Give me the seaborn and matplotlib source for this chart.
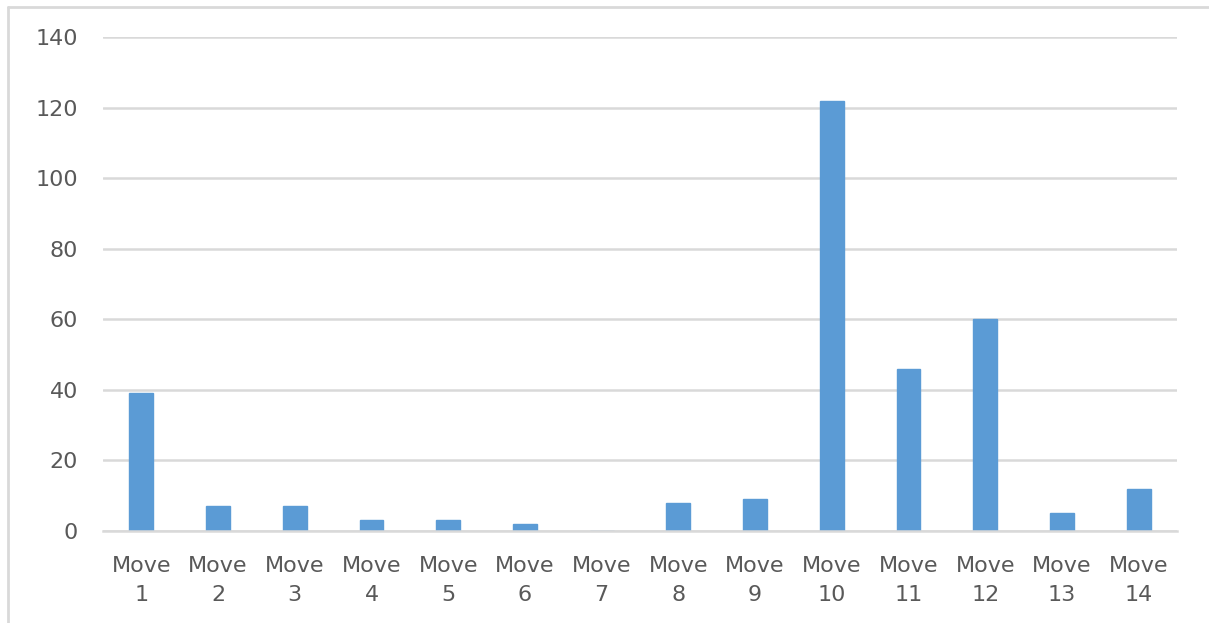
import matplotlib
matplotlib.use("Agg")
import matplotlib.pyplot as plt
import seaborn as sns
import pandas as pd
from matplotlib.lines import Line2D

categories = [f"Move\n{i}" for i in range(1, 15)]
values = [39, 7, 7, 3, 3, 2, 0, 8, 9, 122, 46, 60, 5, 12]
yticks = [0, 20, 40, 60, 80, 100, 120, 140]

sns.set_theme(style="white")
plt.rcParams['font.family'] = ['DejaVu Sans']

W, H = 1209, 623
fig = plt.figure(figsize=(W/100, H/100), dpi=100)
ax = fig.add_axes([103/W, 1 - 531/H, (1177-103)/W, (531-37)/H])

df = pd.DataFrame({"cat": categories, "val": values})
sns.barplot(data=df, x="cat", y="val", color="#5B9BD5", width=0.31, ax=ax,
            saturation=1, edgecolor="#5B9BD5")

ax.set_ylim(0, 140)
ax.set_xlim(-0.5, len(categories) - 0.5)
ax.set_yticks(yticks)
ax.yaxis.grid(True, color="#D9D9D9", linewidth=1.8)
ax.set_axisbelow(True)
for s in ["top", "right", "left"]:
    ax.spines[s].set_visible(False)
ax.spines["bottom"].set_color("#D9D9D9")
ax.spines["bottom"].set_linewidth(1.8)
ax.set_xlabel("")
ax.set_ylabel("")
ax.tick_params(axis="y", length=0, pad=18, labelsize=16, labelcolor="#595959")
ax.tick_params(axis="x", length=0, pad=18, labelsize=16, labelcolor="#595959")
for t in ax.get_xticklabels():
    t.set_linespacing(1.55)
    t.set_horizontalalignment("center")

# outer chart frame (only top and left edges visible in the reference)
fig.lines.append(Line2D([8/W, 1.0], [1 - 7/H, 1 - 7/H], transform=fig.transFigure,
                        color="#D9D9D9", linewidth=2))
fig.lines.append(Line2D([8/W, 8/W], [0.0, 1 - 7/H], transform=fig.transFigure,
                        color="#D9D9D9", linewidth=2))

fig.savefig("out.png", dpi=100, facecolor="white")
